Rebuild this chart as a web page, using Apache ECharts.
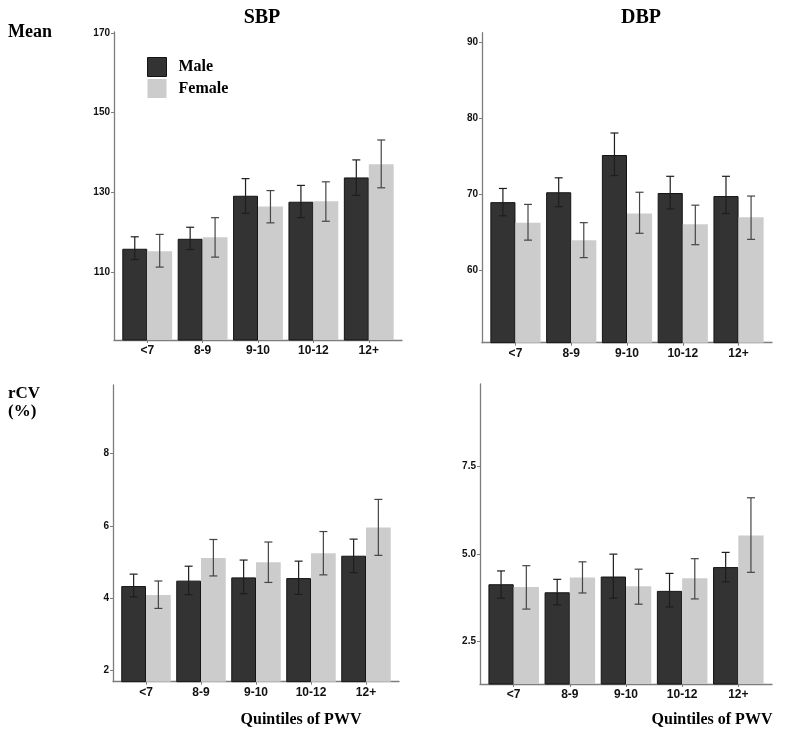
<!DOCTYPE html>
<html><head><meta charset="utf-8">
<script src="https://cdn.jsdelivr.net/npm/echarts@6/dist/echarts.min.js"></script>
<style>html,body{margin:0;padding:0;background:#fff}#c{width:800px;height:742px}</style>
</head><body><div id="c"></div>
<script>
const categories = ['<7', '8-9', '9-10', '10-12', '12+'];

const sbpMeanMale     = [115.8, 118.3, 129.1, 127.6, 133.7];
const sbpMeanMaleLo   = [113.1, 115.6, 124.7, 123.6, 129.2];
const sbpMeanMaleHi   = [118.8, 121.2, 133.4, 131.7, 138.1];
const sbpMeanFemale   = [115.2, 118.7, 126.4, 127.7, 137.0];
const sbpMeanFemaleLo = [111.2, 113.7, 122.3, 122.7, 131.1];
const sbpMeanFemaleHi = [119.4, 123.6, 130.4, 132.6, 143.1];

const dbpMeanMale     = [68.9, 70.2, 75.1, 70.1, 69.7];
const dbpMeanMaleLo   = [67.1, 68.3, 72.4, 68.0, 67.4];
const dbpMeanMaleHi   = [70.7, 72.1, 78.0, 72.3, 72.3];
const dbpMeanFemale   = [66.2, 63.9, 67.4, 66.0, 66.9];
const dbpMeanFemaleLo = [63.9, 61.6, 64.8, 63.3, 64.0];
const dbpMeanFemaleHi = [68.6, 66.2, 70.2, 68.5, 69.7];

const sbpCvMale     = [4.33, 4.48, 4.57, 4.55, 5.17];
const sbpCvMaleLo   = [4.03, 4.09, 4.12, 4.10, 4.70];
const sbpCvMaleHi   = [4.66, 4.88, 5.05, 5.02, 5.63];
const sbpCvFemale   = [4.08, 5.11, 4.99, 5.24, 5.95];
const sbpCvFemaleLo = [3.71, 4.61, 4.43, 4.64, 5.18];
const sbpCvFemaleHi = [4.47, 5.62, 5.55, 5.84, 6.73];

const dbpCvMale     = [4.14, 3.91, 4.36, 3.95, 4.63];
const dbpCvMaleLo   = [3.74, 3.55, 3.74, 3.49, 4.21];
const dbpCvMaleHi   = [4.52, 4.28, 5.00, 4.45, 5.05];
const dbpCvFemale   = [4.06, 4.33, 4.08, 4.31, 5.53];
const dbpCvFemaleLo = [3.43, 3.89, 3.57, 3.72, 4.48];
const dbpCvFemaleHi = [4.67, 4.78, 4.57, 4.87, 6.61];

const sbpMeanTicks = [110, 130, 150, 170];
const dbpMeanTicks = [60, 70, 80, 90];
const sbpCvTicks   = [2, 4, 6, 8];
const dbpCvTicks   = [2.5, 5, 7.5];

const panels = [
  {grid: {left: 114, top: 32, width: 288, height: 308}, ext: [92.9, 170.2], ticks: sbpMeanTicks, dec: 0,
   m: sbpMeanMale, mLo: sbpMeanMaleLo, mHi: sbpMeanMaleHi, f: sbpMeanFemale, fLo: sbpMeanFemaleLo, fHi: sbpMeanFemaleHi},
  {grid: {left: 482, top: 32.7, width: 290, height: 310}, ext: [50.4, 91.2], ticks: dbpMeanTicks, dec: 0,
   m: dbpMeanMale, mLo: dbpMeanMaleLo, mHi: dbpMeanMaleHi, f: dbpMeanFemale, fLo: dbpMeanFemaleLo, fHi: dbpMeanFemaleHi},
  {grid: {left: 113, top: 385, width: 286, height: 296.7}, ext: [1.68, 9.9], ticks: sbpCvTicks, dec: 0,
   m: sbpCvMale, mLo: sbpCvMaleLo, mHi: sbpCvMaleHi, f: sbpCvFemale, fLo: sbpCvFemaleLo, fHi: sbpCvFemaleHi},
  {grid: {left: 480, top: 384, width: 292, height: 300}, ext: [1.29, 9.86], ticks: dbpCvTicks, dec: 1,
   m: dbpCvMale, mLo: dbpCvMaleLo, mHi: dbpCvMaleHi, f: dbpCvFemale, fLo: dbpCvFemaleLo, fHi: dbpCvFemaleHi}
];

const catPos = categories.map((c, i) => i + 1);
const axisGray = '#7d7d7d';

function errRender(sign, color) {
  return function (params, api) {
    const x = api.value(0), lo = api.value(1), hi = api.value(2);
    const shift = api.size([0.225, 0])[0] * sign;
    const a = api.coord([x, hi]), b = api.coord([x, lo]);
    const cx = a[0] + shift;
    const cap = 4;
    const style = {stroke: color, lineWidth: 1.2};
    return {type: 'group', children: [
      {type: 'line', shape: {x1: cx, y1: a[1], x2: cx, y2: b[1]}, style: style},
      {type: 'line', shape: {x1: cx - cap, y1: a[1], x2: cx + cap, y2: a[1]}, style: style},
      {type: 'line', shape: {x1: cx - cap, y1: b[1], x2: cx + cap, y2: b[1]}, style: style}
    ]};
  };
}

const grids = [], xAxes = [], yAxes = [], series = [];
panels.forEach((p, i) => {
  grids.push(Object.assign({outerBoundsMode: 'none', containLabel: false}, p.grid));
  xAxes.push({
    type: 'value', gridIndex: i, min: 0.4, max: 5.6,
    axisLine: {show: true, lineStyle: {color: axisGray, width: 1.3}},
    axisTick: {show: true, customValues: catPos, length: 3, lineStyle: {color: axisGray}},
    axisLabel: {customValues: catPos, formatter: v => categories[Math.round(v) - 1],
      color: '#111', fontWeight: 'bold', fontSize: 12, fontFamily: 'Liberation Sans', margin: 5},
    splitLine: {show: false}
  });
  yAxes.push({
    type: 'value', gridIndex: i, min: p.ext[0], max: p.ext[1],
    axisLine: {show: true, lineStyle: {color: axisGray, width: 1.3}},
    axisTick: {show: true, customValues: p.ticks, length: 3, lineStyle: {color: axisGray}},
    axisLabel: {customValues: p.ticks, formatter: v => v.toFixed(p.dec),
      color: '#111', fontWeight: 'bold', fontSize: 10, fontFamily: 'Liberation Sans', margin: 4},
    splitLine: {show: false}
  });
  series.push({
    type: 'bar', name: 'Male', xAxisIndex: i, yAxisIndex: i,
    data: p.m.map((v, j) => [catPos[j], v]),
    barCategoryGap: '10%', barGap: '0%',
    itemStyle: {color: '#333333', borderColor: '#141414', borderWidth: 1},
    clip: true
  });
  series.push({
    type: 'bar', name: 'Female', xAxisIndex: i, yAxisIndex: i,
    data: p.f.map((v, j) => [catPos[j], v]),
    barCategoryGap: '10%', barGap: '0%',
    itemStyle: {color: '#cccccc'},
    clip: true
  });
  series.push({
    type: 'custom', name: 'errM' + i, xAxisIndex: i, yAxisIndex: i,
    renderItem: errRender(-1, '#1e1e1e'),
    encode: {x: 0, y: [1, 2]},
    data: p.mLo.map((v, j) => [catPos[j], v, p.mHi[j]]),
    z: 5
  });
  series.push({
    type: 'custom', name: 'errF' + i, xAxisIndex: i, yAxisIndex: i,
    renderItem: errRender(1, '#454545'),
    encode: {x: 0, y: [1, 2]},
    data: p.fLo.map((v, j) => [catPos[j], v, p.fHi[j]]),
    z: 5
  });
});

const serif = 'Liberation Serif';
const chart = echarts.init(document.getElementById('c'), null, {renderer: 'canvas'});
chart.setOption({
  animation: false,
  backgroundColor: '#fff',
  grid: grids, xAxis: xAxes, yAxis: yAxes, series: series,
  legend: {
    data: ['Male', 'Female'], orient: 'vertical', left: 142, top: 52,
    icon: 'rect', itemWidth: 19, itemHeight: 19, itemGap: 2,
    itemStyle: {borderWidth: 1},
    textStyle: {fontFamily: serif, fontWeight: 'bold', fontSize: 16, color: '#000', padding: [0, 0, 0, 7]},
    selectedMode: false
  },
  graphic: [
    {type: 'text', x: 262, y: 18, style: {text: 'SBP', font: 'bold 20px "Liberation Serif"', fill: '#000', align: 'center', verticalAlign: 'middle'}},
    {type: 'text', x: 641, y: 18, style: {text: 'DBP', font: 'bold 20px "Liberation Serif"', fill: '#000', align: 'center', verticalAlign: 'middle'}},
    {type: 'text', x: 8, y: 32, style: {text: 'Mean', font: 'bold 18px "Liberation Serif"', fill: '#000', align: 'left', verticalAlign: 'middle'}},
    {type: 'text', x: 8, y: 394, style: {text: 'rCV', font: 'bold 17px "Liberation Serif"', fill: '#000', align: 'left', verticalAlign: 'middle'}},
    {type: 'text', x: 8, y: 412, style: {text: '(%)', font: 'bold 17px "Liberation Serif"', fill: '#000', align: 'left', verticalAlign: 'middle'}},
    {type: 'text', x: 301, y: 720, style: {text: 'Quintiles of PWV', font: 'bold 16px "Liberation Serif"', fill: '#000', align: 'center', verticalAlign: 'middle'}},
    {type: 'text', x: 712, y: 720, style: {text: 'Quintiles of PWV', font: 'bold 16px "Liberation Serif"', fill: '#000', align: 'center', verticalAlign: 'middle'}}
  ]
});
</script></body></html>
